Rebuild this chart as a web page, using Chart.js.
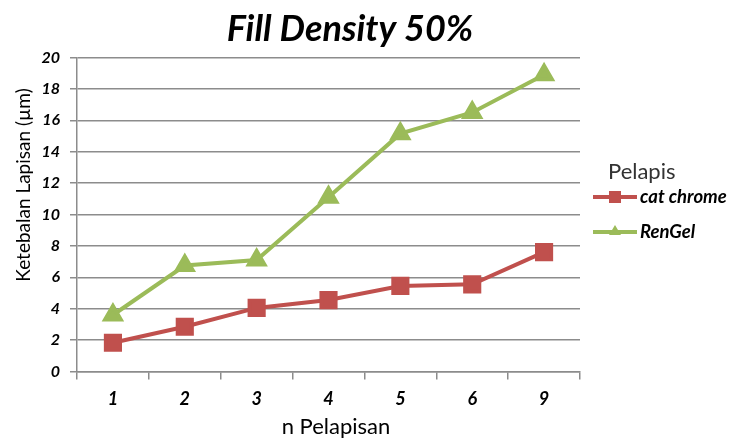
<!DOCTYPE html>
<html>
<head>
<meta charset="utf-8">
<script src="https://cdn.jsdelivr.net/npm/chart.js@4/dist/chart.umd.min.js"></script>
<style>
  body { margin:0; background:#fff; }
  #wrap { width:729px; height:439px; }
</style>
</head>
<body>
<div id="wrap"><canvas id="c" width="729" height="439"></canvas></div>
<script>
const categories = ['1', '2', '3', '4', '5', '6', '9'];
const catChrome = [1.83, 2.85, 4.05, 4.55, 5.45, 5.55, 7.6];
const renGel = [3.6, 6.75, 7.1, 11.1, 15.15, 16.5, 18.9];
const seriesNames = ['cat chrome', 'RenGel'];
const yTicks = [0, 2, 4, 6, 8, 10, 12, 14, 16, 18, 20];

const red = '#C0504D';
const green = '#9BBB59';
const gridGray = '#8C8C8C';
const FONT = 'Lato, "Open Sans", sans-serif';

// titles + legend drawn by hand: positions follow the Excel original, legend shows line + marker
const decorPlugin = {
  id: 'decor',
  afterDraw(chart) {
    const ctx = chart.ctx;
    ctx.save();
    ctx.textBaseline = 'middle';
    ctx.fillStyle = '#000';
    ctx.textAlign = 'center';
    ctx.font = 'italic bold 36px ' + FONT;
    ctx.fillText('Fill Density 50%', 350, 29);

    ctx.font = '22px ' + FONT;
    ctx.fillText('n Pelapisan', 336, 427);

    ctx.save();
    ctx.translate(24, 185);
    ctx.rotate(-Math.PI / 2);
    ctx.font = '19px ' + FONT;
    ctx.fillText('Ketebalan Lapisan (µm)', 0, 0);
    ctx.restore();

    ctx.textAlign = 'left';
    ctx.fillStyle = '#333';
    ctx.font = '22px ' + FONT;
    ctx.fillText('Pelapis', 608, 172);
    chart.data.datasets.forEach((ds, i) => {
      const y = 197 + i * 35;
      ctx.strokeStyle = ds.borderColor;
      ctx.lineWidth = 4;
      ctx.beginPath();
      ctx.moveTo(593, y);
      ctx.lineTo(637, y);
      ctx.stroke();
      ctx.fillStyle = ds.borderColor;
      if (ds.pointStyle === 'rect') {
        ctx.fillRect(609, y - 6, 12, 12);
      } else {
        ctx.beginPath();
        ctx.moveTo(615, y - 7);
        ctx.lineTo(621, y + 3);
        ctx.lineTo(609, y + 3);
        ctx.closePath();
        ctx.fill();
      }
      ctx.fillStyle = '#000';
      ctx.font = 'italic bold 18.5px ' + FONT;
      ctx.fillText(ds.label, 640, y);
    });
    ctx.restore();
  }
};

new Chart(document.getElementById('c'), {
  type: 'line',
  data: {
    labels: categories,
    datasets: [
      {
        label: seriesNames[0],
        data: catChrome,
        borderColor: red,
        backgroundColor: red,
        borderWidth: 4,
        pointStyle: 'rect',
        pointRadius: 10,
        pointHoverRadius: 10,
        tension: 0
      },
      {
        label: seriesNames[1],
        data: renGel,
        borderColor: green,
        backgroundColor: green,
        borderWidth: 4,
        pointStyle: 'triangle',
        pointRadius: 9,
        pointHoverRadius: 9,
        tension: 0
      }
    ]
  },
  options: {
    responsive: false,
    animation: false,
    layout: { padding: { top: 57.5, right: 149, left: 13, bottom: 0 } },
    plugins: {
      legend: { display: false },
      tooltip: { enabled: false },
      title: { display: false }
    },
    scales: {
      x: {
        offset: true,
        afterFit(scale) { scale.height = 67.5; },
        grid: {
          offset: true,
          drawOnChartArea: false,
          color: gridGray,
          lineWidth: 1.5,
          tickLength: 8
        },
        border: { color: gridGray, width: 1.5 },
        ticks: {
          color: '#000',
          font: { family: FONT, size: 18, weight: 'bold', style: 'italic' },
          padding: 9
        }
      },
      y: {
        min: 0,
        max: 20,
        afterFit(scale) { scale.width = 64; },
        afterBuildTicks(axis) { axis.ticks = yTicks.map(v => ({ value: v })); },
        grid: {
          color: gridGray,
          lineWidth: 1.5,
          tickLength: 7
        },
        border: { color: gridGray, width: 1.5 },
        ticks: {
          color: '#000',
          font: { family: FONT, size: 16, weight: 'bold', style: 'italic' },
          padding: 10
        }
      }
    }
  },
  plugins: [decorPlugin]
});
</script>
</body>
</html>
